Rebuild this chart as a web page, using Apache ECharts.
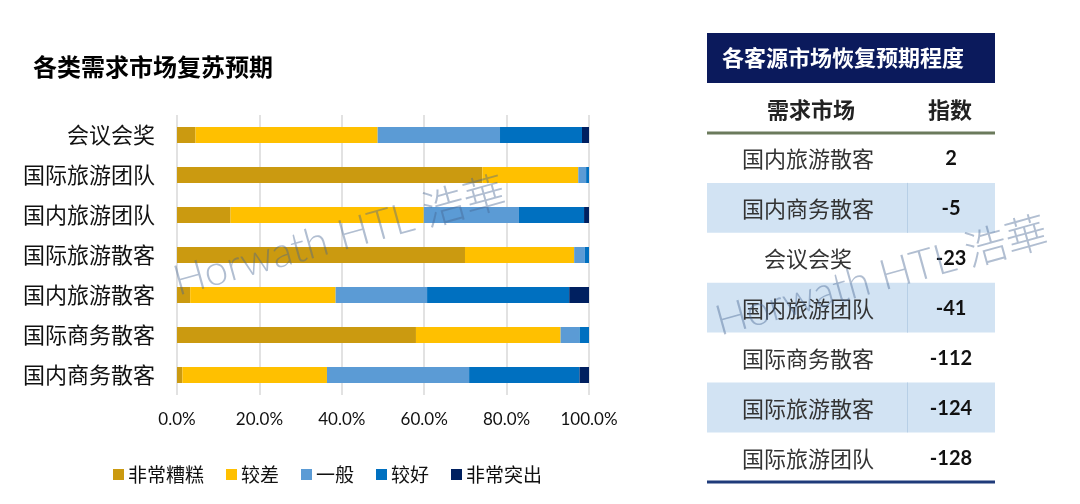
<!DOCTYPE html>
<html>
<head>
<meta charset="utf-8">
<script src="https://cdn.jsdelivr.net/npm/echarts@6/dist/echarts.min.js"></script>
<style>
html,body{margin:0;padding:0;background:#fff;}
#main{width:1080px;height:504px;}
</style>
</head>
<body>
<div id="main"></div>
<script>
// ---- Data ----
var categories = ['会议会奖', '国际旅游团队', '国内旅游团队', '国际旅游散客', '国内旅游散客', '国际商务散客', '国内商务散客'];
var seriesNames = ['非常糟糕', '较差', '一般', '较好', '非常突出'];
var veryBad   = [4.5, 74.1, 13.0, 69.9, 3.2, 58.0, 1.3];
var bad       = [44.2, 23.3, 46.9, 26.5, 35.3, 35.1, 35.1];
var average   = [29.7, 1.9, 23.1, 2.6, 22.2, 4.6, 34.5];
var good      = [19.9, 0.7, 15.8, 1.0, 34.5, 2.3, 26.8];
var excellent = [1.7, 0, 1.2, 0, 4.8, 0, 2.3];
var xTicks = [0, 20, 40, 60, 80, 100];

var tableTitle = '各客源市场恢复预期程度';
var tableHeaders = ['需求市场', '指数'];
var tableMarkets = ['国内旅游散客', '国内商务散客', '会议会奖', '国内旅游团队', '国际商务散客', '国际旅游散客', '国际旅游团队'];
var tableIndex = [2, -5, -23, -41, -112, -124, -128];

// ---- Styles ----
var colors = ['#CB9A10', '#FFC000', '#5B9BD5', '#0070C0', '#002060'];
var cjk = '"Noto Sans CJK SC", "Noto Sans", sans-serif';
var numFont = 'Lato, "Noto Sans", sans-serif';

var chart = echarts.init(document.getElementById('main'), null, {renderer: 'canvas'});

var seriesData = [veryBad, bad, average, good, excellent];
var series = seriesNames.map(function (name, i) {
  return {
    name: name,
    type: 'bar',
    stack: 'total',
    barWidth: 16,
    itemStyle: {color: colors[i]},
    emphasis: {disabled: true},
    data: seriesData[i]
  };
});

// ---- Table graphic ----
var TX = 707, TW = 288, rowTop = 133, rowH = 49.9;
var graphics = [];
graphics.push({type: 'rect', shape: {x: TX, y: 33, width: TW, height: 50}, style: {fill: '#0B1A5C'}});
graphics.push({type: 'text', x: 722, y: 58, style: {text: tableTitle, fill: '#fff', font: 'bold 22px ' + cjk, textVerticalAlign: 'middle', textAlign: 'left'}});
graphics.push({type: 'text', x: 811, y: 110, style: {text: tableHeaders[0], fill: '#222', font: 'bold 22px ' + cjk, textVerticalAlign: 'middle', textAlign: 'center'}});
graphics.push({type: 'text', x: 950, y: 110, style: {text: tableHeaders[1], fill: '#222', font: 'bold 22px ' + cjk, textVerticalAlign: 'middle', textAlign: 'center'}});
tableMarkets.forEach(function (m, i) {
  var y0 = rowTop + rowH * i;
  if (i % 2 === 1) {
    graphics.push({type: 'rect', shape: {x: TX, y: y0, width: TW, height: rowH}, style: {fill: '#D2E3F3'}});
    graphics.push({type: 'line', shape: {x1: 907.5, y1: y0, x2: 907.5, y2: y0 + rowH}, style: {stroke: '#B7CFE6', lineWidth: 1}});
  }
  graphics.push({type: 'text', x: 808, y: y0 + rowH / 2 + 1, style: {text: m, fill: '#333', font: '22px ' + cjk, textVerticalAlign: 'middle', textAlign: 'center'}});
  graphics.push({type: 'text', x: 951, y: y0 + rowH / 2 + 1, style: {text: String(tableIndex[i]), fill: '#111', font: 'bold 20px ' + numFont, textVerticalAlign: 'middle', textAlign: 'center'}});
});
graphics.push({type: 'line', shape: {x1: TX, y1: 133, x2: TX + TW, y2: 133}, style: {stroke: '#6B7A5C', lineWidth: 3}});
graphics.push({type: 'line', shape: {x1: TX, y1: 482, x2: TX + TW, y2: 482}, style: {stroke: '#1F3B7A', lineWidth: 3}});

// ---- Watermarks ----
[[180, 303], [722, 343]].forEach(function (p) {
  graphics.push({
    type: 'text', x: p[0], y: p[1], rotation: 0.27, z: 100, silent: true,
    style: {text: 'Horwath HTL 浩華', fill: 'rgba(70,100,145,0.42)', font: '300 42px Lato, "Noto Sans CJK SC", sans-serif', textAlign: 'left', textVerticalAlign: 'bottom'}
  });
});

var option = {
  animation: false,
  backgroundColor: '#fff',
  title: {
    text: '各类需求市场复苏预期',
    left: 33, top: 55, padding: 0,
    textStyle: {fontFamily: cjk, fontSize: 24, fontWeight: 'bold', color: '#000'}
  },
  legend: {
    left: 108, top: 460,
    icon: 'rect', itemWidth: 11, itemHeight: 11, itemGap: 22,
    textStyle: {fontFamily: cjk, fontSize: 19, color: '#111', padding: [0, 0, 0, -1]},
    data: seriesNames
  },
  grid: {left: 177, right: 491, top: 115, height: 280, containLabel: false},
  xAxis: {
    type: 'value', min: 0, max: 100, interval: 20,
    axisLine: {show: false}, axisTick: {show: false},
    splitLine: {show: true, lineStyle: {color: '#D9D9D9', width: 1.5}},
    axisLabel: {
      margin: 16, fontFamily: numFont, fontSize: 17, color: '#111',
      formatter: function (v) { return xTicks.indexOf(v) >= 0 ? v.toFixed(1) + '%' : ''; }
    }
  },
  yAxis: {
    type: 'category', inverse: true, data: categories,
    axisLine: {show: false}, axisTick: {show: false},
    axisLabel: {margin: 22, fontFamily: cjk, fontSize: 22, color: '#111'}
  },
  series: series,
  graphic: graphics
};
chart.setOption(option);
</script>
</body>
</html>
